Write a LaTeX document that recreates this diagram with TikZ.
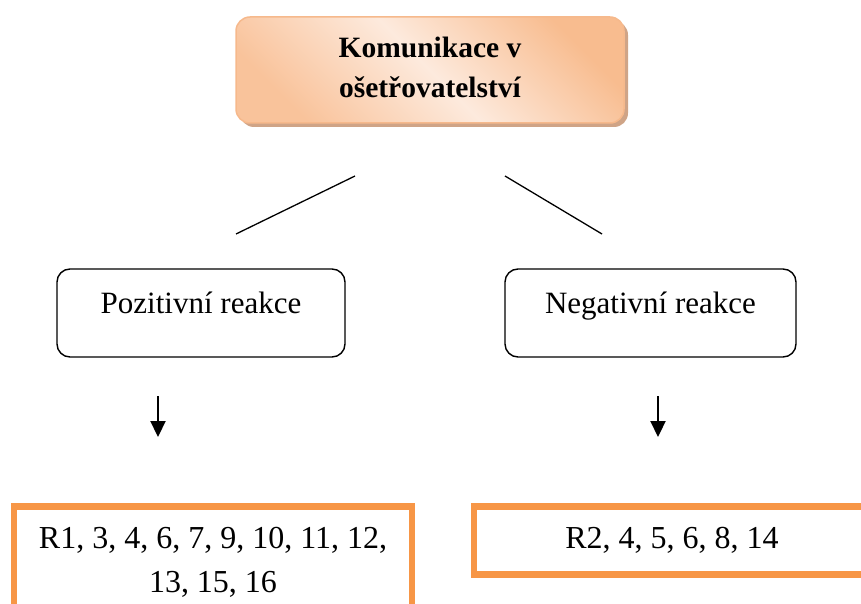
\documentclass[tikz,border=0pt]{standalone}
\usepackage{fontspec}
\setmainfont{Liberation Serif}
\usetikzlibrary{arrows.meta}
\definecolor{accent}{HTML}{F79646}
\definecolor{peachtop}{HTML}{F8BC8F}
\definecolor{peachmid}{HTML}{FDEADD}
\definecolor{peachbot}{HTML}{F9C39B}
\definecolor{peachline}{HTML}{F6B98C}
\definecolor{peachshadow}{HTML}{CFA487}
\tikzset{
  titlebox/.style={rounded corners=14pt, minimum width=388pt, minimum height=106pt, inner sep=0pt},
  titlefill/.style={titlebox, draw=peachline, line width=1.5pt,
    top color=peachtop, bottom color=peachbot, middle color=peachmid, shading angle=-45},
  titleshade/.style={titlebox, fill=peachshadow},
  reactbox/.style={draw, line width=1.4pt, rounded corners=13pt, inner sep=0pt,
    minimum width=288pt, text height=44pt, text depth=44pt,
    font=\fontsize{31}{36}\selectfont},
  resultfont/.style={font=\fontsize{32}{44}\selectfont},
  resultbox/.style={draw=accent, line width=6.5pt, inner sep=0pt, resultfont},
  conn/.style={line width=1.3pt},
  down/.style={line width=2.2pt, -{Triangle[width=15pt,length=16pt]}},
}
\begin{document}
\begin{tikzpicture}[x=1pt,y=-1pt]
\useasboundingbox (0,0) rectangle (861,604);
\clip (0,0) rectangle (861,604);

% title box with its drop shadow
\node[titleshade] (titleshadow) at (434,74) {};
\node[titlefill] (title) at (430,70) {};
% multi-line node: the base anchor sits on the last line
\node[font=\fontsize{29.5}{40}\selectfont\bfseries, align=center, anchor=base]
  (titletext) at (430,98) {Komunikace v\\ošetřovatelství};

% branches
\coordinate (bl1) at (355,176);
\coordinate (bl2) at (236,234);
\coordinate (br1) at (505,176);
\coordinate (br2) at (602,234);
\draw[conn] (bl1) -- (bl2);
\draw[conn] (br1) -- (br2);

% reaction boxes
\node[reactbox] (pos) at (201,313) {Pozitivní reakce};
\node[reactbox, minimum width=291pt] (neg) at (650.5,313) {Negativní reakce};

% arrows
\coordinate (pa1) at (158,396);
\coordinate (pa2) at (158,437);
\coordinate (na1) at (658,396);
\coordinate (na2) at (658,437);
\draw[down] (pa1) -- (pa2);
\draw[down] (na1) -- (na2);

% result boxes
\node[resultbox, minimum width=398pt, minimum height=130pt] (posres) at (213,571.5) {};
\node[resultfont, align=center, anchor=base]
  (posrestext) at (213,592) {R1, 3, 4, 6, 7, 9, 10, 11, 12,\\13, 15, 16};
\node[resultbox, minimum width=396pt, text height=41.5pt, text depth=26.5pt]
  (negres) at (672,540.5) {R2, 4, 5, 6, 8, 14};
\end{tikzpicture}
\end{document}
